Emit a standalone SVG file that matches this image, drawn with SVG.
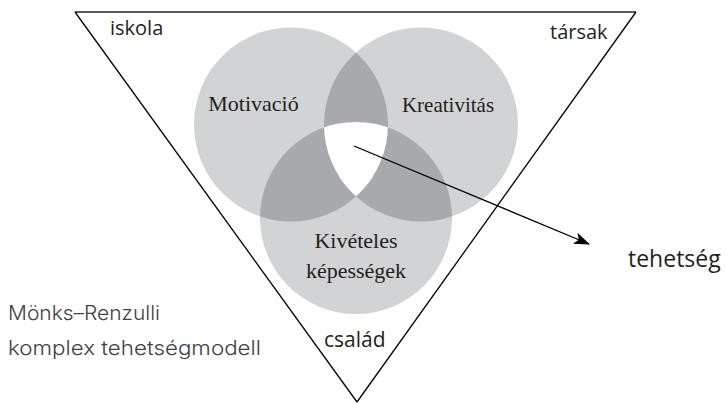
<svg xmlns="http://www.w3.org/2000/svg" width="727" height="404" viewBox="0 0 727 404">
<style>
.c{fill:#d1d3d4}
.d{fill:#a7a9ac}
.w{fill:#ffffff}
.serif{font-family:"Liberation Serif","DejaVu Serif",serif;font-size:22px;fill:#231f20;text-anchor:middle}
.sans{font-family:"Open Sans","Noto Sans",sans-serif;font-size:20px;fill:#231f20}
.light{font-family:Inter,"Lato",sans-serif;font-weight:300;font-size:20px;fill:#414042}
.edge{stroke:#000;stroke-width:1.3;fill:none}
</style>
<defs>
<clipPath id="cA"><circle cx="291" cy="124.5" r="97"/></clipPath>
<clipPath id="cB"><circle cx="421" cy="124.5" r="97"/></clipPath>
<clipPath id="cC"><circle cx="356" cy="218" r="96"/></clipPath>
<marker id="arr" viewBox="0 0 16 12" refX="15" refY="6" markerWidth="16" markerHeight="12" markerUnits="userSpaceOnUse" orient="auto">
<path d="M0,0 L16,6 L0,12 L4,6 Z" fill="#000"/>
</marker>
</defs>
<g id="frame">
<line x1="75" y1="12" x2="636" y2="12" stroke="#58595b" stroke-width="2.2"/>
<line class="edge" x1="75" y1="12" x2="357" y2="402"/>
<line class="edge" x1="636" y1="12" x2="357" y2="402"/>
</g>
<g id="motivacio">
<circle class="c" cx="291" cy="124.5" r="97"/>
</g>
<g id="kreativitas">
<circle class="c" cx="421" cy="124.5" r="97"/>
</g>
<g id="kepessegek">
<circle class="c" cx="356" cy="218" r="96"/>
</g>
<g id="overlaps">
<g clip-path="url(#cB)"><circle class="d" cx="291" cy="124.5" r="97"/></g>
<g clip-path="url(#cC)"><circle class="d" cx="291" cy="124.5" r="97"/></g>
<g clip-path="url(#cC)"><circle class="d" cx="421" cy="124.5" r="97"/></g>
<g clip-path="url(#cB)"><g clip-path="url(#cC)"><circle class="w" cx="291" cy="124.5" r="97"/></g></g>
</g>
<g id="labels">
<text class="serif" x="253.5" y="111">Motivació</text>
<text class="serif" x="448" y="112" style="font-size:21px">Kreativitás</text>
<text class="serif" x="356" y="248">Kivételes</text>
<text class="serif" x="356" y="278">képességek</text>
<text class="sans" x="110" y="35">iskola</text>
<text class="sans" x="550" y="39">társak</text>
<text class="sans" x="324" y="347" style="font-size:21px">család</text>
<text class="sans" x="628" y="267" style="font-size:23px">tehetség</text>
<text class="light" x="8" y="320" textLength="152" lengthAdjust="spacingAndGlyphs">Mönks–Renzulli</text>
<text class="light" x="8" y="355" textLength="253" lengthAdjust="spacingAndGlyphs">komplex tehetségmodell</text>
</g>
<g id="connectors">
<line x1="354" y1="146" x2="589" y2="244" stroke="#000" stroke-width="1.3" marker-end="url(#arr)"/>
</g>
</svg>
